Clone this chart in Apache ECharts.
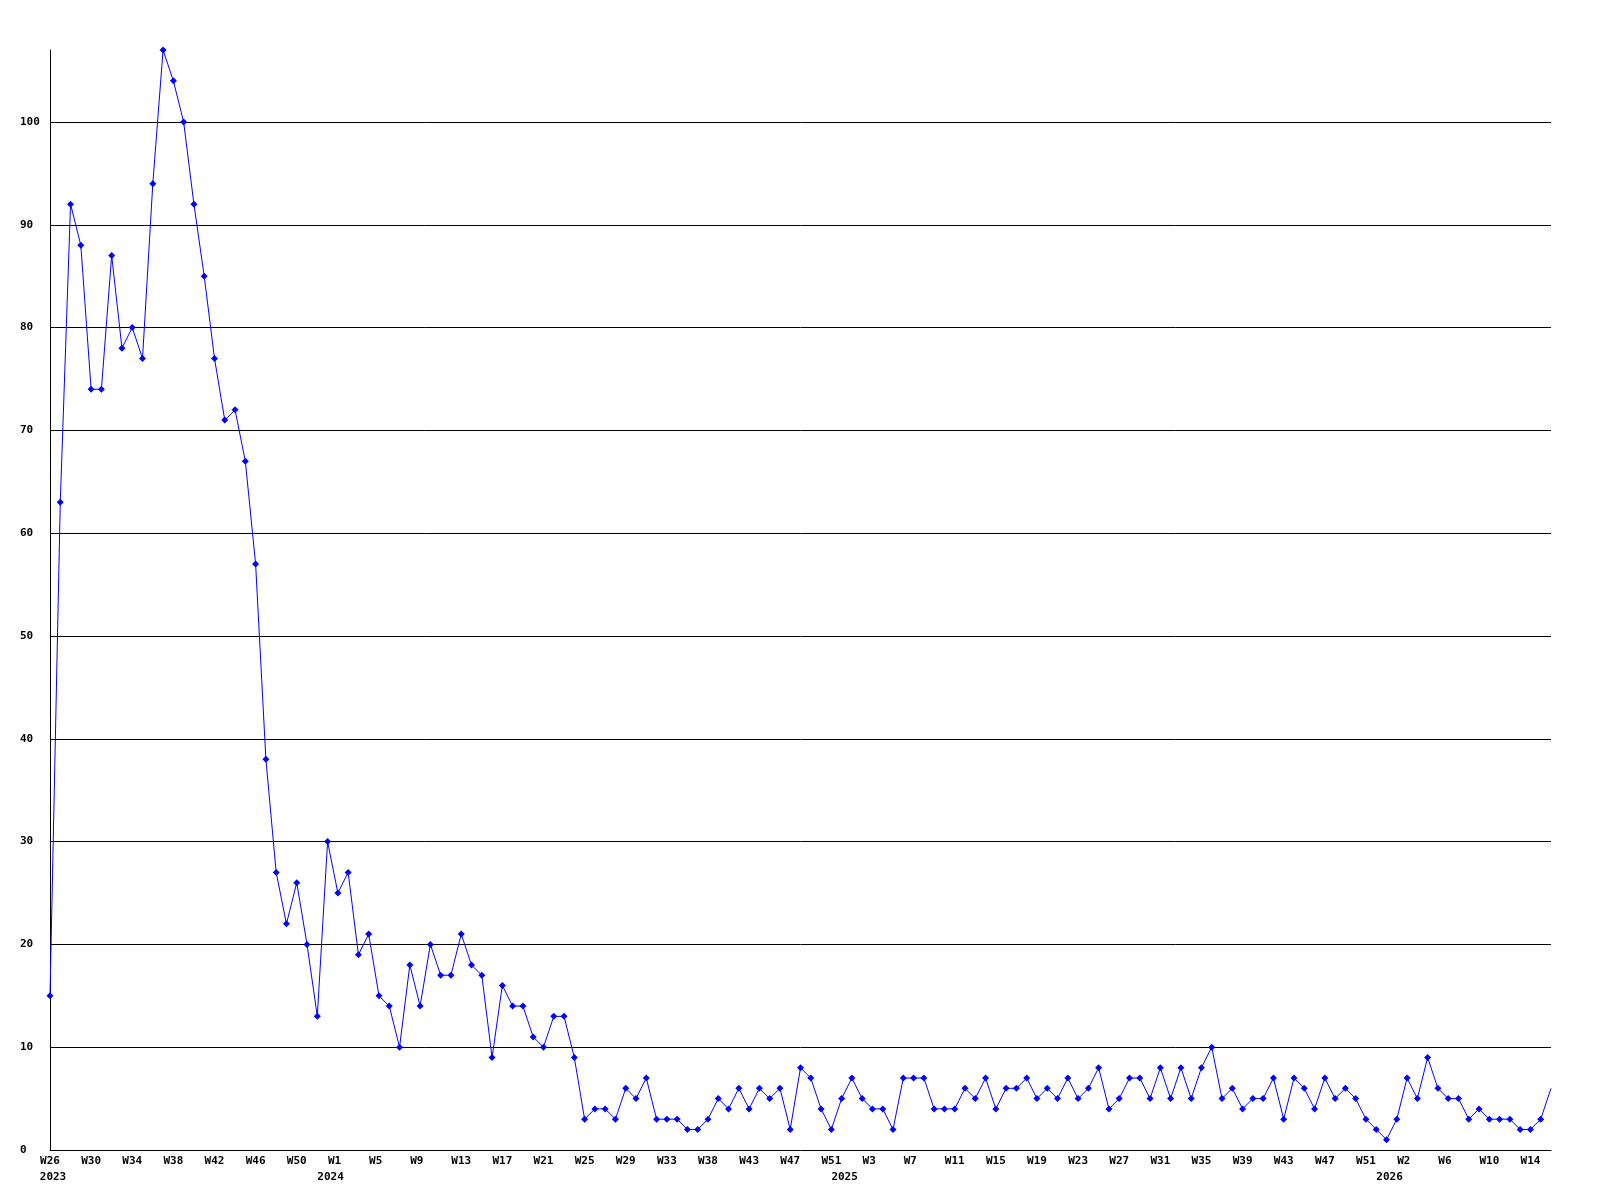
<!DOCTYPE html>
<html>
<head>
<meta charset="utf-8">
<script src="https://cdn.jsdelivr.net/npm/echarts@6/dist/echarts.min.js"></script>
<style>
  html, body { margin: 0; padding: 0; background: #fff; }
  #chart { width: 1600px; height: 1200px; }
</style>
</head>
<body>
<div id="chart"></div>
<script>
// weekly counts, W26 2023 .. W16 2026
const values = [
  15, 63, 92, 88, 74, 74, 87, 78, 80, 77, 94, 107, 104, 100, 92, 85, 77, 71, 72, 67,
  57, 38,
  27, 22, 26, 20, 13, 30, 25, 27, 19, 21, 15, 14, 10, 18, 14, 20, 17, 17, 21, 18, 17, 9, 16, 14,
  14, 11, 10, 13, 13, 9, 3, 4, 4, 3, 6, 5, 7, 3, 3, 3, 2, 2, 3, 5, 4, 6, 4, 6, 5, 6, 2,
  8, 7, 4, 2, 5, 7, 5, 4, 4, 2, 7, 7, 7, 4, 4, 4, 6, 5, 7, 4, 6, 6, 7, 5, 6, 5,
  7, 5, 6, 8, 4, 5, 7, 7, 5, 8, 5, 8, 5, 8, 10, 5, 6, 4, 5, 5, 7, 3, 7, 6, 4, 7,
  5, 6, 5, 3, 2, 1, 3, 7, 5, 9, 6, 5, 5, 3, 4, 3, 3, 3, 2, 2, 3, 6
];

// one label every 4th point
const tickLabels = [
  'W26', 'W30', 'W34', 'W38', 'W42', 'W46', 'W50', 'W1', 'W5', 'W9', 'W13', 'W17', 'W21',
  'W25', 'W29', 'W33', 'W38', 'W43', 'W47', 'W51', 'W3', 'W7', 'W11', 'W15', 'W19', 'W23',
  'W27', 'W31', 'W35', 'W39', 'W43', 'W47', 'W51', 'W2', 'W6', 'W10', 'W14'
];
const tickStep = 4;

// year labels and the point they sit under
const years = ['2023', '2024', '2025', '2026'];
const yearIndex = [0, 27, 77, 130];

const categories = values.map((v, i) => String(i));

const font = { fontFamily: 'DejaVu Sans Mono', fontWeight: 'bold', fontSize: 11, color: '#000' };

const chart = echarts.init(document.getElementById('chart'));
chart.setOption({
  animation: false,
  backgroundColor: '#fff',
  grid: { left: 50, right: 49, top: 50, bottom: 50 },
  xAxis: [
    {
      type: 'category',
      data: categories,
      boundaryGap: false,
      axisLine: { lineStyle: { color: '#000', width: 1 } },
      axisTick: { show: false },
      axisLabel: Object.assign({
        margin: 6,
        interval: (i) => i % tickStep === 0,
        formatter: (v, i) => (tickLabels[i / tickStep] || '').padEnd(3, ' ')
      }, font),
      splitLine: { show: false }
    },
    {
      type: 'category',
      data: categories,
      boundaryGap: false,
      position: 'bottom',
      offset: 16,
      axisLine: { show: false },
      axisTick: { show: false },
      axisLabel: Object.assign({
        margin: 6,
        padding: [0, 0, 0, 6],
        interval: (i) => yearIndex.indexOf(i) >= 0,
        formatter: (v, i) => years[yearIndex.indexOf(i)] || ''
      }, font),
      splitLine: { show: false }
    }
  ],
  yAxis: {
    type: 'value',
    min: 0,
    max: 107,
    interval: 10,
    axisLine: { show: true, lineStyle: { color: '#000', width: 1 } },
    axisTick: { show: false },
    axisLabel: Object.assign({ margin: 30, align: 'left', showMaxLabel: false }, font),
    splitLine: { show: true, showMinLine: false, showMaxLine: false, lineStyle: { color: '#000', width: 1 } }
  },
  series: [{
    type: 'line',
    data: values.map((v, i) => i === values.length - 1 ? { value: v, symbol: 'none' } : v),
    symbol: 'diamond',
    symbolSize: 7,
    showAllSymbol: true,
    lineStyle: { color: '#0000ff', width: 1 },
    itemStyle: { color: '#0000ff' },
    emphasis: { disabled: true }
  }]
});
</script>
</body>
</html>
